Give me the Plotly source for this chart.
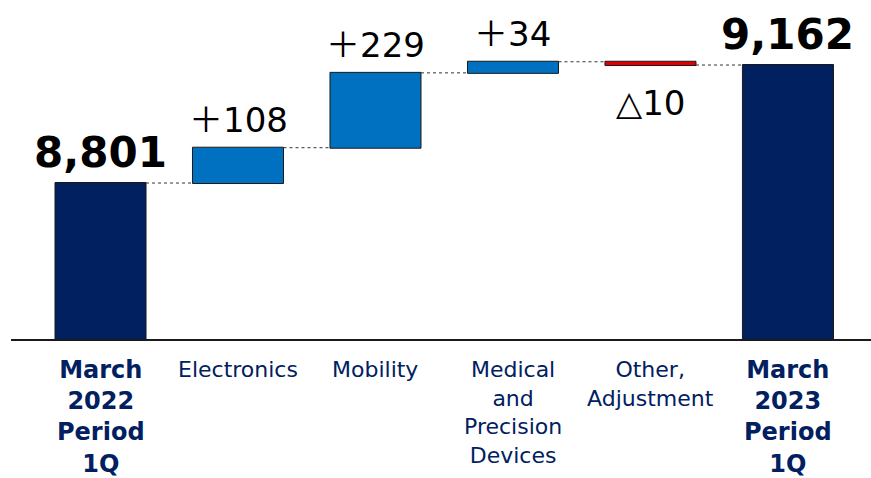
import plotly.graph_objects as go

# ---- data ----
categories = ["March<br>2022<br>Period<br>1Q", "Electronics", "Mobility",
              "Medical<br>and<br>Precision<br>Devices", "Other,<br>Adjustment",
              "March<br>2023<br>Period<br>1Q"]
measures = ["absolute", "relative", "relative", "relative", "relative", "total"]
values = [8801, 108, 229, 34, -10, 0]
value_labels = ["8,801", "＋108", "＋229", "＋34", "△10", "9,162"]
is_total = [True, False, False, False, False, True]

NAVY = "#002060"
BLUE = "#0070C0"
RED = "#E00000"
EDGE = "#1a1a1a"
FONT = "DejaVu Sans, Noto Sans CJK JP, sans-serif"

xs = list(range(len(categories)))

fig = go.Figure()
fig.add_trace(go.Waterfall(
    x=xs, y=values, measure=measures,
    width=0.662,
    increasing=dict(marker=dict(color=BLUE, line=dict(color=EDGE, width=1))),
    decreasing=dict(marker=dict(color=RED, line=dict(color=EDGE, width=1))),
    totals=dict(marker=dict(color=NAVY, line=dict(color=EDGE, width=1))),
    connector=dict(mode="between", line=dict(color="#333333", width=1, dash="dot")),
    hoverinfo="skip",
    showlegend=False,
))

# value labels computed from data
running = 0
for i, (m, v, lab, tot) in enumerate(zip(measures, values, value_labels, is_total)):
    if m == "absolute":
        start, end = 0, v
        running = v
    elif m == "total":
        start, end = 0, running
    else:
        start, end = running, running + v
        running = running + v
    top, bottom = max(start, end), min(start, end)
    if tot:
        fig.add_annotation(x=i, y=top, text="<b>" + lab + "</b>", showarrow=False,
                           yanchor="bottom", yshift=4,
                           font=dict(family=FONT, size=42, color="#000000"))
    elif v >= 0:
        fig.add_annotation(x=i, y=top, text=lab, showarrow=False,
                           yanchor="bottom", yshift=6,
                           font=dict(family=FONT, size=34, color="#000000"))
    else:
        fig.add_annotation(x=i, y=bottom, text=lab, showarrow=False,
                           yanchor="top", yshift=-16,
                           font=dict(family=FONT, size=34, color="#000000"))

# category labels below the axis
for i, (c, tot) in enumerate(zip(categories, is_total)):
    if tot:
        fig.add_annotation(x=i, y=0, yref="paper", text="<b>" + c + "</b>",
                           showarrow=False, yanchor="top", yshift=-15, align="center",
                           font=dict(family=FONT, size=24, color=NAVY))
    else:
        fig.add_annotation(x=i, y=0, yref="paper", text=c,
                           showarrow=False, yanchor="top", yshift=-16, align="center",
                           font=dict(family=FONT, size=22, color=NAVY))

fig.update_layout(
    width=871, height=478,
    margin=dict(l=11, r=0, t=0, b=139),
    paper_bgcolor="white", plot_bgcolor="white",
    font=dict(family=FONT),
    xaxis=dict(
        range=[-0.651, 5.604],
        tickmode="array", tickvals=xs, showticklabels=False,
        ticks="",
        showline=True, linecolor=EDGE, linewidth=2,
        showgrid=False, zeroline=False, fixedrange=True,
    ),
    yaxis=dict(
        range=[8323.8, 9360.9],
        visible=False, showgrid=False, zeroline=False, fixedrange=True,
    ),
)

fig.write_html("out.html")
